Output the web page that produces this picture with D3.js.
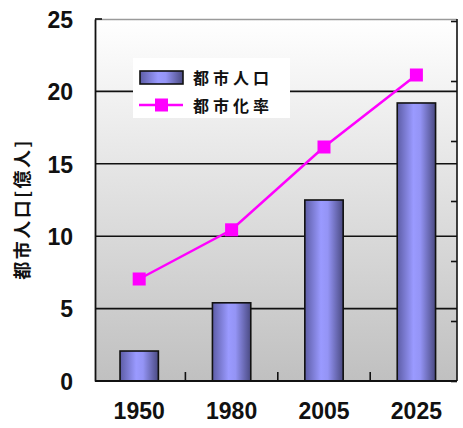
<!DOCTYPE html>
<html>
<head>
<meta charset="utf-8">
<script src="https://cdn.jsdelivr.net/npm/d3@7/dist/d3.min.js"></script>
<style>
  html, body { margin: 0; padding: 0; background: #fff; }
  svg { display: block; }
  .num { font-family: "Liberation Sans", Arial, sans-serif; font-weight: bold; fill: #111; }
  .cjk { font-family: "Noto Sans CJK JP", sans-serif; font-weight: bold; fill: #111; }
</style>
</head>
<body>
<svg id="chart" width="463" height="428"></svg>
<script>
// Urban population (hundred million people) and urbanization rate (%)
const years = ["1950", "1980", "2005", "2025"];
const urbanPopulation = [2.07, 5.4, 12.5, 19.2];
const urbanizationRate = [17, 25.2, 39, 51];
const leftTicks = [0, 5, 10, 15, 20, 25];
const rightTicks = [0, 10, 20, 30, 40, 50, 60];
const legendLabels = ["都市人口", "都市化率"];
const yAxisTitle = "都市人口[億人]";

const svg = d3.select("#chart");
const plot = { left: 95, right: 457, top: 19, bottom: 381 };
const catRange = [93, 462.6];

const x = d3.scaleBand().domain(years).range(catRange)
  .paddingInner(0.585).paddingOuter(0.2925);
const xOuter = d3.scaleBand().domain(years).range(catRange);
const y = d3.scaleLinear().domain([0, 25]).range([plot.bottom, plot.top]);
const y2 = d3.scaleLinear().domain([0, 60]).range([plot.bottom, plot.top + 2]);

const defs = svg.append("defs");
const bg = defs.append("linearGradient").attr("id", "plotBg")
  .attr("x1", 0).attr("y1", 0).attr("x2", 0).attr("y2", 1);
bg.append("stop").attr("offset", "0%").attr("stop-color", "#ffffff");
bg.append("stop").attr("offset", "100%").attr("stop-color", "#c0c0c0");

const barGrad = defs.append("linearGradient").attr("id", "barFill")
  .attr("x1", 0).attr("y1", 0).attr("x2", 1).attr("y2", 0);
barGrad.append("stop").attr("offset", "0%").attr("stop-color", "#5d5da6");
barGrad.append("stop").attr("offset", "42%").attr("stop-color", "#9a9aff");
barGrad.append("stop").attr("offset", "60%").attr("stop-color", "#9494f5");
barGrad.append("stop").attr("offset", "100%").attr("stop-color", "#4a4a82");

// plot background
svg.append("rect")
  .attr("x", plot.left).attr("y", plot.top)
  .attr("width", plot.right - plot.left).attr("height", plot.bottom - plot.top)
  .attr("fill", "url(#plotBg)");

// top border
svg.append("line")
  .attr("x1", plot.left).attr("x2", plot.right)
  .attr("y1", plot.top + 0.5).attr("y2", plot.top + 0.5)
  .attr("stroke", "#9a9a9a").attr("stroke-width", 1.5);

// horizontal gridlines
svg.append("g").selectAll("line")
  .data(leftTicks.filter(d => d > 0 && d < 25))
  .join("line")
  .attr("x1", plot.left).attr("x2", plot.right)
  .attr("y1", d => y(d)).attr("y2", d => y(d))
  .attr("stroke", "#111").attr("stroke-width", 1.6);

// legend box (covers the gridline)
const legend = svg.append("g").attr("transform", "translate(133,58)");
legend.append("rect").attr("width", 157).attr("height", 60).attr("fill", "#fff");

// bars
svg.append("g").selectAll("rect")
  .data(years)
  .join("rect")
  .attr("x", d => x(d))
  .attr("width", x.bandwidth())
  .attr("y", (d, i) => y(urbanPopulation[i]))
  .attr("height", (d, i) => y(0) - y(urbanPopulation[i]))
  .attr("fill", "url(#barFill)")
  .attr("stroke", "#111").attr("stroke-width", 1.6);

// left axis
const leftAxis = d3.axisLeft(y).tickValues(leftTicks).tickSize(0).tickFormat(d3.format("d"));
const gl = svg.append("g").attr("transform", `translate(${plot.left},0)`).call(leftAxis);
gl.select(".domain").attr("stroke", "#111").attr("stroke-width", 1.8);
gl.selectAll(".tick text").attr("class", "num").attr("x", -22)
  .style("font-size", "23px").attr("dy", "0.36em");
svg.append("line")
  .attr("x1", plot.left).attr("x2", plot.left + 7)
  .attr("y1", y(25)).attr("y2", y(25))
  .attr("stroke", "#111").attr("stroke-width", 1.6);

// right axis (urbanization rate, unlabeled)
const rightAxis = d3.axisLeft(y2).tickValues(rightTicks).tickSize(6).tickFormat("");
const gr = svg.append("g").attr("transform", `translate(${plot.right},0)`).call(rightAxis);
gr.select(".domain").attr("d", `M0,${plot.top}V${plot.bottom}`).attr("stroke", "#111").attr("stroke-width", 1.6);
gr.selectAll(".tick line").attr("stroke", "#111").attr("stroke-width", 1.6);

// bottom axis
const bottomAxis = d3.axisBottom(x).tickSize(0).tickPadding(22);
const gb = svg.append("g").attr("transform", `translate(0,${plot.bottom})`).call(bottomAxis);
gb.select(".domain").attr("d", `M${plot.left},0H${plot.right}`).attr("stroke", "#111").attr("stroke-width", 2);
gb.selectAll(".tick text").attr("class", "num").style("font-size", "23px");
svg.append("g").selectAll("line")
  .data(years.slice(1))
  .join("line")
  .attr("x1", d => xOuter(d)).attr("x2", d => xOuter(d))
  .attr("y1", plot.bottom).attr("y2", plot.bottom - 9)
  .attr("stroke", "#111").attr("stroke-width", 1.6);

// urbanization rate line
const cx = d => x(d) + x.bandwidth() / 2;
svg.append("path").datum(years)
  .attr("d", d3.line().x(v => cx(v)).y((v, i) => y2(urbanizationRate[i])))
  .attr("fill", "none").attr("stroke", "#ff00ff").attr("stroke-width", 2.5);
svg.append("g").selectAll("rect")
  .data(years)
  .join("rect")
  .attr("x", d => cx(d) - 6.5)
  .attr("y", (d, i) => y2(urbanizationRate[i]) - 6.5)
  .attr("width", 13).attr("height", 13)
  .attr("fill", "#ff00ff");

// legend entries
legend.append("rect").attr("x", 7).attr("y", 13).attr("width", 43).attr("height", 13)
  .attr("fill", "url(#barFill)").attr("stroke", "#111").attr("stroke-width", 1.6);
legend.append("line").attr("x1", 6).attr("x2", 50).attr("y1", 47).attr("y2", 47)
  .attr("stroke", "#ff00ff").attr("stroke-width", 2.5);
legend.append("rect").attr("x", 22).attr("y", 40.5).attr("width", 13).attr("height", 13)
  .attr("fill", "#ff00ff");
legend.selectAll("text.lg")
  .data(legendLabels)
  .join("text")
  .attr("class", "cjk")
  .attr("x", 60).attr("y", (d, i) => 20 + i * 28)
  .attr("dy", "0.36em")
  .style("font-size", "16px").style("letter-spacing", "4px")
  .text(d => d);

// y axis title
svg.append("text")
  .attr("class", "cjk")
  .attr("transform", "translate(23,209) rotate(-90)")
  .attr("text-anchor", "middle").attr("dy", "0.36em")
  .style("font-size", "18px").style("letter-spacing", "2.5px")
  .text(yAxisTitle);
</script>
</body>
</html>
